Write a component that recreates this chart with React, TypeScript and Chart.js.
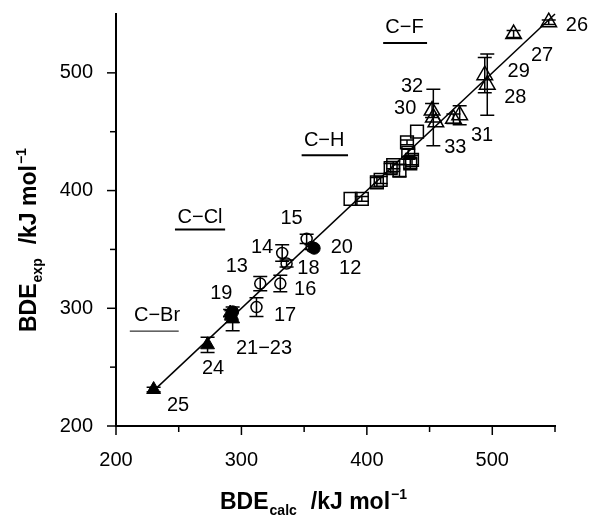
import React, { useEffect, useRef } from 'react';
import { Chart, registerables } from 'chart.js';
Chart.register(...registerables);

const FONT = '"Liberation Sans", Arial, Helvetica, sans-serif';

// C-Br (filled triangles)
const brX = [230, 273, 292, 293, 291];
const brY = [231, 269, 294, 291, 296];
const brErr = [2, 6.5, 4, 10, 3];
// filled circles (19, 20)
const fcX = [293, 358];
const fcY = [297, 351];
// C-Cl (open circles)
const clX = [315, 331, 312, 336, 332.5, 352, 356];
const clY = [321, 321, 301, 338, 347, 359, 352];
const clErr = [6, 7, 8, 3, 7, 4, 2];
// C-H (open squares)
const hX = [387, 396, 408, 411, 419, 421, 426, 434.6, 433, 432, 440, 436];
const hY = [393, 393, 407, 409, 419, 421.6, 417, 423, 432, 441, 450, 426];
const hErr = [0, 2, 4, 3, 4, 3, 5, 4, 3, 2, 0, 4];
// C-F (open triangles)
const fX = [545, 517, 496, 494, 452, 453, 455, 474, 469];
const fY = [543, 533, 490, 498, 468, 462, 458, 464, 461];
const fErr = [2, 3, 26, 15, 6, 24, 0, 8, 4];
// fit line y = x
const fitX = [229, 550];
const fitY = [229, 550];

// point number labels (data coordinates of label centres)
const numText = ['25', '24', '21\u221223', '19', '13', '17', '16', '18', '12', '20', '14', '15', '32', '30', '33', '31', '28', '29', '27', '26'];
const numX = [249.5, 277.4, 318, 284, 296.3, 334.8, 350.8, 353.4, 386.7, 380, 316.5, 340, 436, 430.6, 470.5, 491.8, 518.4, 521, 539.7, 567.5];
const numY = [217.8, 249, 266, 312.6, 335.2, 294, 316, 333.9, 333.9, 352, 352, 376.3, 488, 469.7, 437, 447, 479.5, 500.8, 515, 540.4];

// group labels with underline
const grpText = ['C\u2212Br', 'C\u2212Cl', 'C\u2212H', 'C\u2212F'];
const grpX = [232.7, 267, 366, 430];
const grpY = [294.2, 377.4, 442.8, 538.7];
const grpUx1 = [211, 247, 348, 413];
const grpUx2 = [250, 287, 385, 448];
const grpUy = [280.6, 367, 430, 525.4];
const grpUw = [1, 2, 2, 2];

const axisMin = 200;
const axisMax = 550;
const tickStep = 50;

const pts = (xs: number[], ys: number[]) => xs.map((x, i) => ({ x, y: ys[i] }));

const errorBarPlugin = {
  id: 'errbars',
  afterDatasetsDraw(chart: any) {
    const ctx = chart.ctx;
    const ys = chart.scales.y;
    ctx.save();
    ctx.strokeStyle = '#000';
    ctx.lineWidth = 1.5;
    chart.data.datasets.forEach((ds: any, di: number) => {
      if (!ds.errors) return;
      const meta = chart.getDatasetMeta(di);
      ds.data.forEach((p: any, i: number) => {
        const e = ds.errors[i];
        if (!e) return;
        const el = meta.data[i];
        const px = el.x;
        const top = ys.getPixelForValue(p.y + e);
        const bot = ys.getPixelForValue(p.y - e);
        ctx.beginPath();
        ctx.moveTo(px, top);
        ctx.lineTo(px, bot);
        ctx.moveTo(px - 7, top);
        ctx.lineTo(px + 7, top);
        ctx.moveTo(px - 7, bot);
        ctx.lineTo(px + 7, bot);
        ctx.stroke();
      });
    });
    ctx.restore();
  },
};

const decorPlugin = {
  id: 'decor',
  afterDraw(chart: any) {
    const ctx = chart.ctx;
    const xs = chart.scales.x;
    const ys = chart.scales.y;
    const area = chart.chartArea;
    ctx.save();
    // tick marks
    ctx.strokeStyle = '#000';
    ctx.lineWidth = 1.5;
    for (let v = axisMin; v <= axisMax; v += tickStep) {
      const len = v % 100 === 0 ? 9 : 6;
      const px = xs.getPixelForValue(v);
      ctx.beginPath();
      ctx.moveTo(px, area.bottom);
      ctx.lineTo(px, area.bottom + len);
      ctx.stroke();
      if (v < axisMax) {
        const py = ys.getPixelForValue(v);
        ctx.beginPath();
        ctx.moveTo(area.left, py);
        ctx.lineTo(area.left - len, py);
        ctx.stroke();
      }
    }
    // number labels
    ctx.fillStyle = '#000';
    ctx.font = `20px ${FONT}`;
    ctx.textAlign = 'center';
    ctx.textBaseline = 'middle';
    numText.forEach((t, i) => {
      ctx.fillText(t, xs.getPixelForValue(numX[i]), ys.getPixelForValue(numY[i]));
    });
    // group labels
    grpText.forEach((t, i) => {
      ctx.fillText(t, xs.getPixelForValue(grpX[i]), ys.getPixelForValue(grpY[i]));
      ctx.lineWidth = grpUw[i];
      const uy = ys.getPixelForValue(grpUy[i]);
      ctx.beginPath();
      ctx.moveTo(xs.getPixelForValue(grpUx1[i]), uy);
      ctx.lineTo(xs.getPixelForValue(grpUx2[i]), uy);
      ctx.stroke();
    });
    // axis titles
    const drawTitle = (main: string, sub: string, unit: string) => {
      let x = 0;
      ctx.textAlign = 'left';
      ctx.textBaseline = 'alphabetic';
      ctx.font = `bold 23px ${FONT}`;
      ctx.fillText(main, x, 0);
      x += ctx.measureText(main).width + 1;
      ctx.font = `bold 14px ${FONT}`;
      ctx.fillText(sub, x, 6);
      x += ctx.measureText(sub).width + 14;
      ctx.font = `bold 23px ${FONT}`;
      ctx.fillText(unit, x, 0);
      x += ctx.measureText(unit).width + 1;
      ctx.font = `bold 14px ${FONT}`;
      ctx.fillText('\u22121', x, -10);
    };
    ctx.save();
    ctx.translate(220, 509);
    drawTitle('BDE', 'calc', '/kJ mol');
    ctx.restore();
    ctx.save();
    ctx.translate(36, 332);
    ctx.rotate(-Math.PI / 2);
    drawTitle('BDE', 'exp', '/kJ mol');
    ctx.restore();
    ctx.restore();
  },
};

const noPad = (s: any) => {
  s.paddingTop = 0;
  s.paddingBottom = 0;
  s.paddingLeft = 0;
  s.paddingRight = 0;
};

export default function App() {
  const ref = useRef<HTMLCanvasElement | null>(null);
  useEffect(() => {
    if (!ref.current) return;
    const chart = new Chart(ref.current, {
      type: 'scatter',
      data: {
        datasets: [
          {
            label: 'fit',
            data: pts(fitX, fitY),
            showLine: true,
            borderColor: '#000',
            borderWidth: 1.5,
            pointRadius: 0,
          } as any,
          {
            label: 'C-Br',
            data: pts(brX, brY),
            errors: brErr,
            pointStyle: 'triangle',
            pointRadius: 8,
            backgroundColor: '#000',
            borderColor: '#000',
            borderWidth: 1,
          },
          {
            label: 'filled',
            data: pts(fcX, fcY),
            pointStyle: 'circle',
            pointRadius: 6,
            backgroundColor: '#000',
            borderColor: '#000',
            borderWidth: 1,
          },
          {
            label: 'C-Cl',
            data: pts(clX, clY),
            errors: clErr,
            pointStyle: 'circle',
            pointRadius: 5.5,
            backgroundColor: 'rgba(0,0,0,0)',
            borderColor: '#000',
            borderWidth: 1.5,
          },
          {
            label: 'C-H',
            data: pts(hX, hY),
            errors: hErr,
            pointStyle: 'rect',
            pointRadius: 9,
            backgroundColor: 'rgba(0,0,0,0)',
            borderColor: '#000',
            borderWidth: 1.5,
          },
          {
            label: 'C-F',
            data: pts(fX, fY),
            errors: fErr,
            pointStyle: 'triangle',
            pointRadius: 9,
            backgroundColor: 'rgba(0,0,0,0)',
            borderColor: '#000',
            borderWidth: 1.5,
          },
        ] as any,
      },
      options: {
        animation: false,
        responsive: true,
        maintainAspectRatio: false,
        clip: false as any,
        layout: { padding: { top: 14, right: 36, left: 0, bottom: 0 } },
        plugins: { legend: { display: false }, tooltip: { enabled: false } },
        scales: {
          x: {
            type: 'linear',
            min: axisMin,
            max: axisMax,
            afterFit: (s: any) => { s.height = 89; noPad(s); },
            grid: { display: false, drawTicks: false, tickLength: 0 },
            border: { display: true, color: '#000', width: 2 },
            ticks: {
              stepSize: 100,
              autoSkip: false,
              maxRotation: 0,
              padding: 22,
              color: '#000',
              font: { family: FONT, size: 20 },
              callback: (v: any) => (v % 100 === 0 ? String(v) : ''),
            },
          },
          y: {
            type: 'linear',
            min: axisMin,
            max: axisMax,
            afterFit: (s: any) => { s.width = 116; noPad(s); },
            grid: { display: false, drawTicks: false, tickLength: 0 },
            border: { display: true, color: '#000', width: 2 },
            ticks: {
              stepSize: 100,
              autoSkip: false,
              padding: 23,
              color: '#000',
              font: { family: FONT, size: 20 },
              callback: (v: any) => (v % 100 === 0 && v < 550 ? String(v) : ''),
            },
          },
        },
      },
      plugins: [errorBarPlugin, decorPlugin],
    });
    return () => chart.destroy();
  }, []);
  return (
    <div style={{ position: 'fixed', left: 0, top: 0, width: 591, height: 515, background: '#fff' }}>
      <canvas ref={ref} />
    </div>
  );
}
